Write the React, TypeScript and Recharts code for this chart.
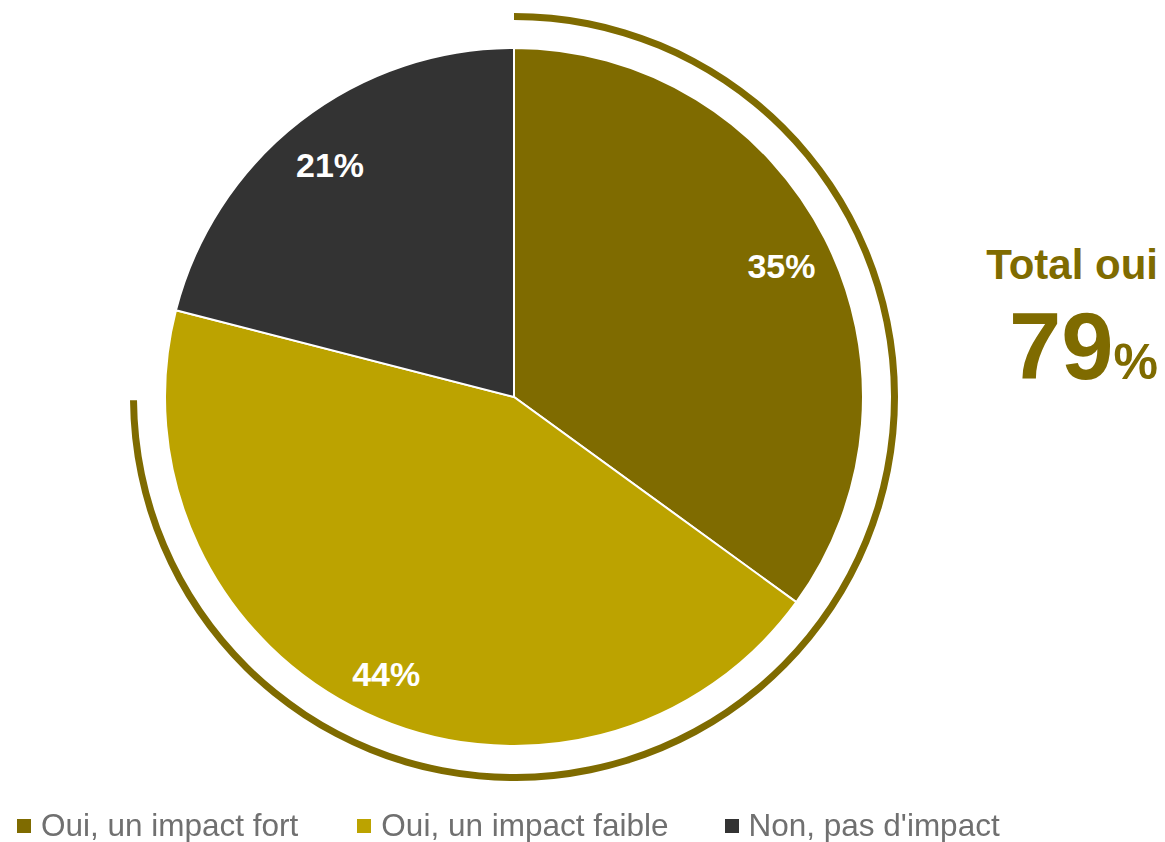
import React from 'react';
import { PieChart, Pie, Cell, Legend } from 'recharts';

// answer categories and shares (%)
const categories = ['Oui, un impact fort', 'Oui, un impact faible', "Non, pas d'impact"];
const shares = [35, 44, 21];
const colors = ['#7f6b00', '#bca300', '#333333'];

// total of the "oui" answers, shown on the right and by the outer arc
const totalLabel = 'Total oui';
const totalOui = 79;

const RADIAN = Math.PI / 180;

export default function App() {
  const data = categories.map((name, i) => ({ name, value: shares[i] }));
  const arcData = [{ name: totalLabel, value: totalOui }];

  const renderLabel = (props: any) => {
    const { cx, cy, midAngle, outerRadius, value } = props;
    const r = outerRadius * 0.86;
    const x = cx + r * Math.cos(-midAngle * RADIAN);
    const y = cy + r * Math.sin(-midAngle * RADIAN) + 5;
    return (
      <text
        x={x}
        y={y}
        fill="#ffffff"
        textAnchor="middle"
        dominantBaseline="central"
        fontFamily="'Liberation Sans', Arial, sans-serif"
        fontWeight="bold"
        fontSize={34}
      >
        {`${value}%`}
      </text>
    );
  };

  const renderLegend = () => (
    <div style={{ display: 'flex', fontFamily: "'Liberation Sans', Arial, sans-serif", fontSize: 31.5, color: '#707070' }}>
      {categories.map((c, i) => (
        <div key={c} style={{ display: 'flex', alignItems: 'center', marginRight: i === 0 ? 59 : 56 }}>
          <div style={{ width: 14, height: 14, background: colors[i], marginRight: 10 }} />
          <span>{c}</span>
        </div>
      ))}
    </div>
  );

  return (
    <div style={{ position: 'fixed', left: 0, top: 0, width: 1165, height: 842, background: '#fff' }}>
      <PieChart width={1165} height={842} margin={{ top: 0, right: 0, bottom: 0, left: 0 }}>
        {/* outer arc around the "oui" slices */}
        <Pie
          data={arcData}
          dataKey="value"
          cx={514}
          cy={397}
          innerRadius={377}
          outerRadius={384}
          startAngle={90}
          endAngle={-179.5}
          stroke="none"
          isAnimationActive={false}
          legendType="none"
        >
          <Cell fill="#7f6b00" />
        </Pie>
        <Pie
          data={data}
          dataKey="value"
          cx={514}
          cy={397}
          outerRadius={349}
          startAngle={90}
          endAngle={-270}
          stroke="#ffffff"
          strokeWidth={2}
          label={renderLabel}
          labelLine={false}
          isAnimationActive={false}
        >
          {data.map((d, i) => (
            <Cell key={d.name} fill={colors[i]} />
          ))}
        </Pie>
        <Legend content={renderLegend} wrapperStyle={{ left: 17, top: 807, width: 1145 }} />
      </PieChart>
      <div
        style={{
          position: 'absolute',
          right: 7,
          top: 239,
          textAlign: 'right',
          color: '#7f6b00',
          fontFamily: "'Liberation Sans', Arial, sans-serif",
          fontWeight: 'bold',
        }}
      >
        <div style={{ fontSize: 42, lineHeight: '52px' }}>{totalLabel}</div>
        <div style={{ lineHeight: '100px', marginTop: 6 }}>
          <span style={{ fontSize: 94 }}>{totalOui}</span>
          <span style={{ fontSize: 50 }}>%</span>
        </div>
      </div>
    </div>
  );
}
